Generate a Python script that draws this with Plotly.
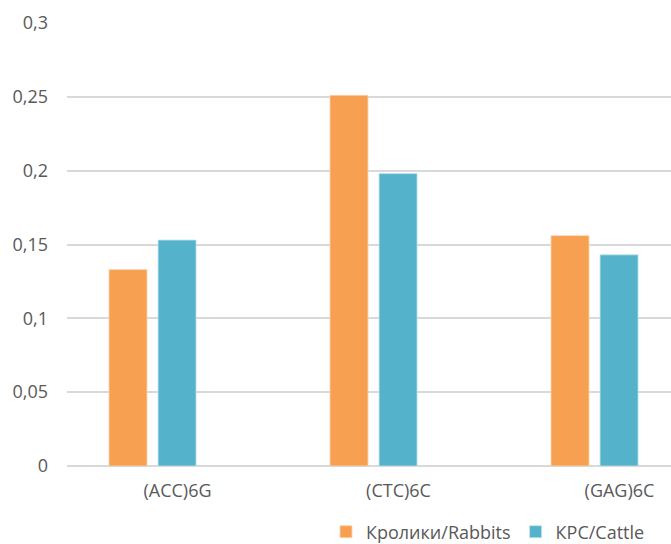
import plotly.graph_objects as go

# Microsatellite primers and their values per species
primers = ["(ACC)6G", "(CTC)6C", "(GAG)6C"]
rabbits = [0.133, 0.251, 0.156]
cattle = [0.153, 0.198, 0.143]
series_names = ["Кролики/Rabbits", "КРС/Cattle"]
y_ticks = [0, 0.05, 0.1, 0.15, 0.2, 0.25, 0.3]

ORANGE = "#F8A052"
BLUE = "#55B2CB"
TEXT = "#595959"
GRID = "#D9D9D9"
FONT = "Open Sans"
SIZE = 18

fig = go.Figure()
fig.add_trace(go.Bar(
    x=primers, y=rabbits, name=series_names[0],
    marker=dict(color=ORANGE, line=dict(color="#FBD3B0", width=0.8)),
    width=0.172, offset=-0.31,
))
fig.add_trace(go.Bar(
    x=primers, y=cattle, name=series_names[1],
    marker=dict(color=BLUE, line=dict(color="#BFE3EE", width=0.8)),
    width=0.172, offset=-0.088,
))

fig.update_layout(
    width=671, height=544,
    margin=dict(l=67, r=0, t=23, b=78, autoexpand=False),
    plot_bgcolor="white", paper_bgcolor="white",
    separators=", ",
    font=dict(family=FONT, size=SIZE, color=TEXT),
    showlegend=True,
    legend=dict(
        orientation="h", xref="container", x=326 / 671, xanchor="left",
        yref="container", y=1 - 532 / 544, yanchor="middle",
        font=dict(family=FONT, size=SIZE, color=TEXT),
        itemwidth=30, tracegroupgap=0,
    ),
    xaxis=dict(
        type="category", range=[-0.5, -0.5 + 604 / 221],
        showgrid=False, showline=False, zeroline=False,
        ticks="", ticklabelstandoff=12,
        tickfont=dict(family=FONT, size=SIZE, color=TEXT),
    ),
    yaxis=dict(
        range=[0, 0.3], tickvals=y_ticks,
        showgrid=True, gridcolor=GRID, gridwidth=1.5,
        zeroline=True, zerolinecolor=GRID, zerolinewidth=1.5,
        showline=False, ticks="", ticklabelstandoff=18,
        tickfont=dict(family=FONT, size=SIZE, color=TEXT),
    ),
)

fig.write_html("out.html")
